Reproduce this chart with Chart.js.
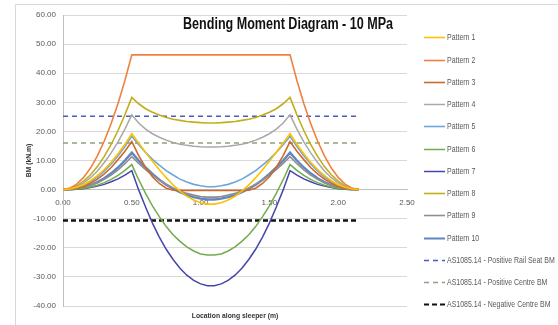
<!DOCTYPE html>
<html>
<head>
<meta charset="utf-8">
<script src="https://cdn.jsdelivr.net/npm/chart.js@4.4.1/dist/chart.umd.min.js"></script>
<style>
  html, body { margin: 0; padding: 0; background: #ffffff; }
  #wrap { width: 558px; height: 325px; }
</style>
</head>
<body>
<div id="wrap"><canvas id="bm" width="558" height="325"></canvas></div>
<script>
// Location along the sleeper (m)
const positions = [0, 0.05, 0.1, 0.15, 0.2, 0.25, 0.3, 0.35, 0.4, 0.45, 0.5,
  0.55, 0.6, 0.65, 0.7, 0.75, 0.8, 0.85, 0.9, 0.95, 1, 1.05,
  1.1, 1.15, 1.2, 1.25, 1.3, 1.35, 1.4, 1.45, 1.5, 1.55, 1.6,
  1.65, 1.7, 1.75, 1.8, 1.85, 1.9, 1.95, 2, 2.05, 2.1, 2.15];

// Bending moment (kN.m) for each support pattern
const pattern1 = [0, 0.2, 0.8, 1.7, 3.1, 4.8, 6.9, 9.4, 12.3, 15.6, 19.2,
  16.0, 12.8, 9.7, 6.8, 4.1, 1.6, -0.5, -2.3, -3.6, -4.5, -5.0,
  -5.0, -4.5, -3.6, -2.3, -0.5, 1.6, 4.1, 6.8, 9.7, 12.8, 16.0,
  19.2, 15.6, 12.3, 9.4, 6.9, 4.8, 3.1, 1.7, 0.8, 0.2, 0];
const pattern2 = [0, 0.5, 1.9, 4.2, 7.4, 11.6, 16.7, 22.7, 29.6, 37.5, 46.3,
  46.3, 46.3, 46.3, 46.3, 46.3, 46.3, 46.3, 46.3, 46.3, 46.3, 46.3,
  46.3, 46.3, 46.3, 46.3, 46.3, 46.3, 46.3, 46.3, 46.3, 46.3, 46.3,
  46.3, 37.5, 29.6, 22.7, 16.7, 11.6, 7.4, 4.2, 1.9, 0.5, 0];
const pattern3 = [0, 0.1, 0.5, 1.1, 2.2, 3.6, 5.4, 7.6, 10.3, 13.2, 16.5,
  11.7, 7.6, 4.4, 2.1, 0.5, -0.2, -0.3, -0.3, -0.3, -0.3, -0.3,
  -0.3, -0.3, -0.3, -0.3, -0.3, -0.2, 0.5, 2.1, 4.4, 7.6, 11.7,
  16.5, 13.2, 10.3, 7.6, 5.4, 3.6, 2.2, 1.1, 0.5, 0.1, 0];
const pattern4 = [0, 0.3, 1.0, 2.3, 4.1, 6.4, 9.3, 12.6, 16.4, 20.8, 25.7,
  22.9, 20.8, 19.2, 18.0, 17.0, 16.2, 15.6, 15.2, 14.9, 14.7, 14.6,
  14.6, 14.7, 14.9, 15.2, 15.6, 16.2, 17.0, 18.0, 19.2, 20.8, 22.9,
  25.7, 20.8, 16.4, 12.6, 9.3, 6.4, 4.1, 2.3, 1.0, 0.3, 0];
const pattern5 = [0, 0.1, 0.6, 1.5, 2.8, 4.3, 6.4, 8.8, 11.6, 14.8, 18.3,
  15.4, 12.8, 10.4, 8.4, 6.5, 5.0, 3.6, 2.6, 1.8, 1.3, 1.0,
  1.0, 1.3, 1.8, 2.6, 3.6, 5.0, 6.5, 8.4, 10.4, 12.8, 15.4,
  18.3, 14.8, 11.6, 8.8, 6.4, 4.3, 2.8, 1.5, 0.6, 0.1, 0];
const pattern6 = [0, 0.0, 0.2, 0.4, 0.9, 1.5, 2.4, 3.5, 4.9, 6.6, 8.6,
  3.4, -1.3, -5.6, -9.3, -12.7, -15.5, -17.8, -19.7, -21.1, -22.1, -22.5,
  -22.5, -22.1, -21.1, -19.7, -17.8, -15.5, -12.7, -9.3, -5.6, -1.3, 3.4,
  8.6, 6.6, 4.9, 3.5, 2.4, 1.5, 0.9, 0.4, 0.2, 0.0, 0];
const pattern7 = [0, 0.0, 0.1, 0.3, 0.7, 1.2, 1.8, 2.7, 3.7, 5.0, 6.5,
  -0.1, -6.0, -11.5, -16.3, -20.5, -24.0, -27.0, -29.4, -31.2, -32.4, -33.0,
  -33.0, -32.4, -31.2, -29.4, -27.0, -24.0, -20.5, -16.3, -11.5, -6.0, -0.1,
  6.5, 5.0, 3.7, 2.7, 1.8, 1.2, 0.7, 0.3, 0.1, 0.0, 0];
const pattern8 = [0, 0.3, 1.3, 2.9, 5.1, 7.9, 11.4, 15.5, 20.3, 25.7, 31.7,
  29.5, 27.8, 26.6, 25.6, 24.8, 24.2, 23.8, 23.4, 23.2, 23.0, 22.9,
  22.9, 23.0, 23.2, 23.4, 23.8, 24.2, 24.8, 25.6, 26.6, 27.8, 29.5,
  31.7, 25.7, 20.3, 15.5, 11.4, 7.9, 5.1, 2.9, 1.3, 0.3, 0];
const pattern9 = [0, 0.1, 0.3, 0.7, 1.4, 2.3, 3.5, 5.0, 6.8, 8.9, 11.3,
  9.0, 6.9, 5.0, 3.3, 1.8, 0.6, -0.5, -1.3, -1.9, -2.4, -2.6,
  -2.6, -2.4, -1.9, -1.3, -0.5, 0.6, 1.8, 3.3, 5.0, 6.9, 9.0,
  11.3, 8.9, 6.8, 5.0, 3.5, 2.3, 1.4, 0.7, 0.3, 0.1, 0];
const pattern10 = [0, 0.1, 0.3, 0.8, 1.5, 2.6, 3.9, 5.6, 7.6, 10.0, 12.7,
  10.0, 7.6, 5.4, 3.4, 1.7, 0.3, -0.9, -1.9, -2.6, -3.1, -3.4,
  -3.4, -3.1, -2.6, -1.9, -0.9, 0.3, 1.7, 3.4, 5.4, 7.6, 10.0,
  12.7, 10.0, 7.6, 5.6, 3.9, 2.6, 1.5, 0.8, 0.3, 0.1, 0];

// AS1085.14 design moments (kN.m), drawn along the sleeper length
const limitSpan = [0, 2.15];
const asRailSeat = 25.2;
const asPosCentre = 16.0;
const asNegCentre = -10.6;

// Axis ticks
const xTicks = [0, 0.5, 1, 1.5, 2, 2.5];
const yTicks = [-40, -30, -20, -10, 0, 10, 20, 30, 40, 50, 60];

const seriesNames = ['Pattern 1', 'Pattern 2', 'Pattern 3', 'Pattern 4', 'Pattern 5',
  'Pattern 6', 'Pattern 7', 'Pattern 8', 'Pattern 9', 'Pattern 10'];
const seriesValues = [pattern1, pattern2, pattern3, pattern4, pattern5,
  pattern6, pattern7, pattern8, pattern9, pattern10];
const seriesColors = ['#FFC000', '#F08040', '#CC6A2C', '#A8A8A8', '#6CA6DC',
  '#72AC4C', '#4545B0', '#C2AE1A', '#8F8F8F', '#5F86C0'];
const seriesWidths = [1.6, 1.6, 1.6, 1.5, 1.6, 1.5, 1.5, 1.6, 1.6, 2.4];

const FONT = "'Liberation Sans', 'DejaVu Sans', sans-serif";

const datasets = seriesNames.map((name, i) => ({
  label: name,
  data: positions.map((x, j) => ({ x: x, y: seriesValues[i][j] })),
  borderColor: seriesColors[i],
  backgroundColor: seriesColors[i],
  borderWidth: seriesWidths[i],
  borderDash: [],
  pointRadius: 0,
  tension: 0,
  fill: false
}));

const limitLines = [
  { label: 'AS1085.14 - Positive Rail Seat BM', value: asRailSeat, color: '#4A5BC4', width: 1.4, dash: [5, 4] },
  { label: 'AS1085.14 - Positive Centre BM', value: asPosCentre, color: '#8AA27A', width: 1.4, dash: [5, 4] },
  { label: 'AS1085.14 - Negative Centre BM', value: asNegCentre, color: '#111111', width: 2.4, dash: [5, 3] }
];
limitLines.forEach(l => datasets.push({
  label: l.label,
  data: limitSpan.map(x => ({ x: x, y: l.value })),
  borderColor: l.color,
  backgroundColor: l.color,
  borderWidth: l.width,
  borderDash: l.dash,
  pointRadius: 0,
  tension: 0,
  fill: false
}));

// Draws text squeezed horizontally by a factor (narrow face look)
function narrowText(ctx, text, x, y, squeeze) {
  ctx.save();
  ctx.translate(x, y);
  ctx.scale(squeeze, 1);
  ctx.fillText(text, 0, 0);
  ctx.restore();
}

// Title, axis titles, legend and frame
const decorations = {
  id: 'decorations',
  beforeDraw(chart) {
    const ctx = chart.ctx;
    ctx.save();
    ctx.fillStyle = '#ffffff';
    ctx.fillRect(0, 0, chart.width, chart.height);
    ctx.restore();
  },
  afterDraw(chart) {
    const ctx = chart.ctx;
    const area = chart.chartArea;
    ctx.save();

    // frame edges
    ctx.strokeStyle = '#D9D9D9';
    ctx.lineWidth = 1;
    ctx.beginPath();
    ctx.moveTo(15.5, chart.height);
    ctx.lineTo(15.5, 4.5);
    ctx.lineTo(chart.width, 4.5);
    ctx.stroke();

    // chart title, fitted to its box
    const title = 'Bending Moment Diagram - 10 MPa';
    ctx.fillStyle = '#111111';
    ctx.font = "bold 16px " + FONT;
    ctx.textAlign = 'left';
    ctx.textBaseline = 'middle';
    const tw = ctx.measureText(title).width;
    narrowText(ctx, title, 183, 25, 210 / tw);

    // axis titles
    ctx.font = "bold 8px " + FONT;
    ctx.fillStyle = '#333333';
    ctx.textAlign = 'center';
    narrowText(ctx, 'Location along sleeper (m)', (area.left + area.right) / 2, 316, 0.85);
    ctx.save();
    ctx.translate(29, (area.top + area.bottom) / 2);
    ctx.rotate(-Math.PI / 2);
    narrowText(ctx, 'BM (kN.m)', 0, 0, 0.85);
    ctx.restore();

    // legend
    ctx.font = "8.5px " + FONT;
    ctx.textAlign = 'left';
    chart.data.datasets.forEach((ds, i) => {
      const y = Math.round(37.3 + i * 22.25) + 0.5;
      ctx.save();
      ctx.strokeStyle = ds.borderColor;
      ctx.lineWidth = Math.min(ds.borderWidth, 2);
      ctx.setLineDash(ds.borderDash || []);
      ctx.beginPath();
      ctx.moveTo(424, y);
      ctx.lineTo(445, y);
      ctx.stroke();
      ctx.restore();
      ctx.fillStyle = '#595959';
      narrowText(ctx, ds.label, 447, y, 0.82);
    });
    ctx.restore();
  }
};

new Chart(document.getElementById('bm'), {
  type: 'line',
  data: { datasets: datasets },
  plugins: [decorations],
  options: {
    responsive: false,
    animation: false,
    events: [],
    layout: { padding: { left: 0, top: 15, right: 151, bottom: 19 } },
    plugins: {
      legend: { display: false },
      title: { display: false },
      tooltip: { enabled: false }
    },
    scales: {
      x: {
        type: 'linear',
        position: { y: 0 },
        min: 0,
        max: 2.5,
        afterBuildTicks: s => { s.ticks = xTicks.map(v => ({ value: v })); },
        ticks: {
          callback: v => Number(v).toFixed(2),
          padding: 8,
          color: '#595959',
          font: { family: FONT, size: 8 },
          maxRotation: 0,
          autoSkip: false
        },
        grid: { display: false, drawTicks: false },
        border: { display: true, color: '#BFBFBF', width: 1 }
      },
      y: {
        type: 'linear',
        min: -40,
        max: 60,
        afterBuildTicks: s => { s.ticks = yTicks.map(v => ({ value: v })); },
        afterFit: s => { s.width = 63; },
        ticks: {
          callback: v => Number(v).toFixed(2),
          padding: 7,
          color: '#595959',
          font: { family: FONT, size: 8 }
        },
        grid: { color: '#D9D9D9', drawTicks: false, lineWidth: 1 },
        border: { display: true, color: '#BFBFBF', width: 1 }
      }
    }
  }
});
</script>
</body>
</html>
